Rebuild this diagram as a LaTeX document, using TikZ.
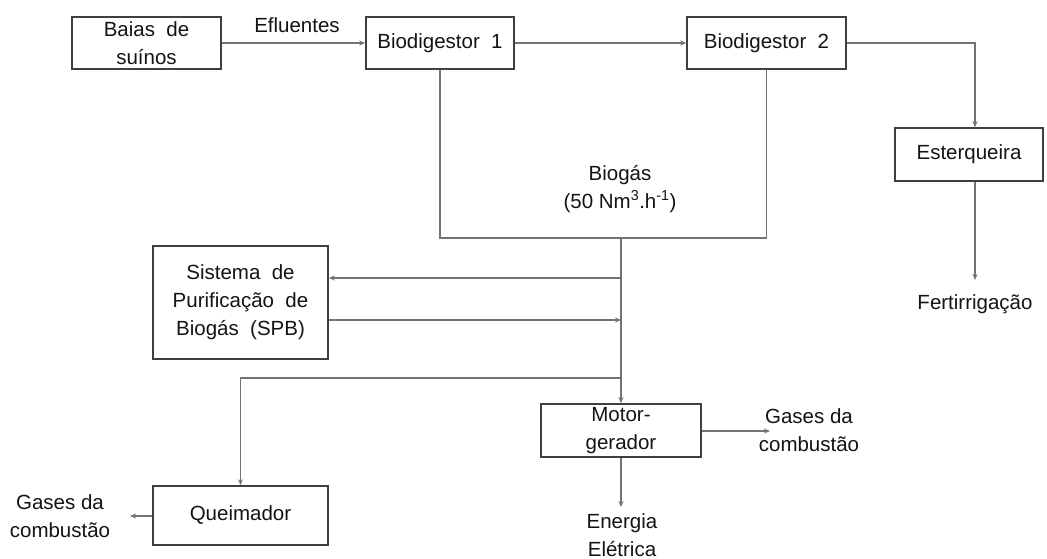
\documentclass[tikz,border=0pt]{standalone}
\usepackage{fontspec}
\setmainfont{Liberation Sans}
\usetikzlibrary{arrows.meta}
\begin{document}
\begin{tikzpicture}[x=1pt,y=-1pt,
  box/.style={draw=black!75,line width=1.6pt,align=center,inner sep=0pt,font=\fontsize{20.5}{28}\selectfont,text=black!92},
  lbl/.style={align=center,inner sep=0pt,font=\fontsize{20.5}{28}\selectfont,text=black!92},
  flow/.style={draw=black!55,line width=1.3pt},
  arr/.style={flow,-{Stealth[length=6pt,width=5pt]}}]
\useasboundingbox[fill=white] (0,0) rectangle (1047,559);
\node[box,minimum width=149pt,minimum height=52pt] (baias) at (146.5,43) {Baias \ de\\suínos};
\node[box,minimum width=148pt,minimum height=52pt] (bio1) at (440,43) {Biodigestor \ 1};
\node[box,minimum width=159pt,minimum height=52pt] (bio2) at (766.5,43) {Biodigestor \ 2};
\node[box,minimum width=148pt,minimum height=53pt] (ester) at (969,154.5) {Esterqueira};
\node[box,minimum width=175pt,minimum height=113pt] (spb) at (240.5,302.5) {Sistema \ de\\Purificação \ de\\Biogás \ (SPB)};
\node[box,minimum width=175pt,minimum height=59pt] (queim) at (240.5,515.5) {Queimador};
\node[box,minimum width=160pt,minimum height=53pt] (motor) at (621,430.5) {Motor-\\gerador};

\node[lbl] (eflu) at (297,25) {Efluentes};
\node[lbl] (biogas) at (620,189) {Biogás\\(50 Nm\textsuperscript{3}.h\textsuperscript{-1})};
\node[lbl] (fert) at (975,304) {Fertirrigação};
\node[lbl] (gasesL) at (60,516) {Gases da\\combustão};
\node[lbl] (gasesR) at (809,430) {Gases da\\combustão};
\node[lbl] (energia) at (622,535) {Energia\\Elétrica};

\coordinate (j) at (621,238);
\coordinate (s1) at (621,278);
\coordinate (s2) at (621,320);
\coordinate (q) at (621,378);
\coordinate (fe) at (975,280);
\coordinate (gl) at (130,516);
\coordinate (gr) at (770,431);
\coordinate (ee) at (621,507);

\draw[arr] (baias.east) -- (bio1.west);
\draw[arr] (bio1.east) -- (bio2.west);
\draw[arr] (bio2.east) -| (ester.north -| fe);
\draw[arr] (ester.south -| fe) -- (fe);
\draw[flow] (bio1.south) -- (bio1.south |- j) -- (bio2.south |- j) -- (bio2.south);
\draw[arr] (j) -- (motor.north);
\draw[arr] (s1) -- (s1 -| spb.east);
\draw[arr] (s2 -| spb.east) -- (s2);
\draw[arr] (q) -| (queim.north);
\draw[arr] (queim.west |- gl) -- (gl);
\draw[arr] (motor.east |- gr) -- (gr);
\draw[arr] (motor.south) -- (ee);
\end{tikzpicture}
\end{document}
